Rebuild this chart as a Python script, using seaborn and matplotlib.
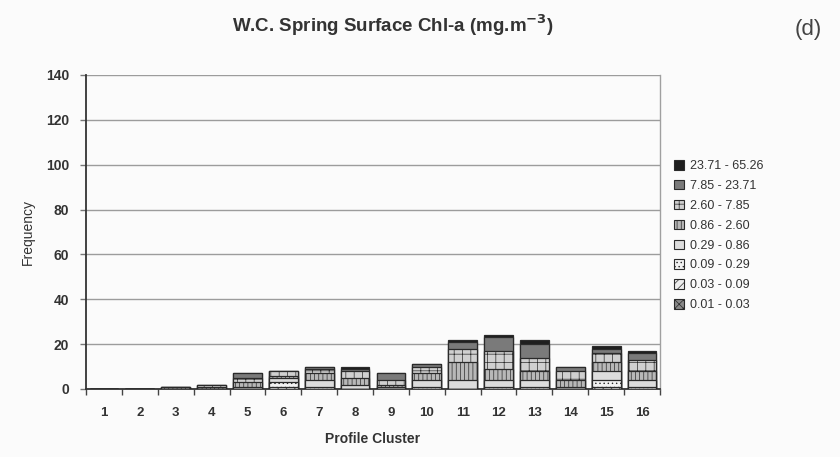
import matplotlib
matplotlib.use("Agg")
import matplotlib.pyplot as plt
from matplotlib.patches import Patch
import numpy as np
import pandas as pd
import seaborn as sns

# Profile clusters and concentration classes (mg.m-3), lowest class first
clusters = [str(i) for i in range(1, 17)]
classes = ["0.01 - 0.03", "0.03 - 0.09", "0.09 - 0.29", "0.29 - 0.86",
           "0.86 - 2.60", "2.60 - 7.85", "7.85 - 23.71", "23.71 - 65.26"]

# Frequency of each class within each cluster
c_001_003 = [0, 0, 0, 0, 0, 0, 0, 0, 0, 0, 0, 0, 0, 0, 0, 0]
c_003_009 = [0, 0, 0, 0, 0, 1, 0, 0, 0, 0, 0, 0, 0, 0, 1, 0]
c_009_029 = [0, 0, 0, 0, 0, 2, 1, 0, 0, 1, 0, 1, 1, 0, 3, 1]
c_029_086 = [0, 0, 0, 0, 1, 2, 3, 2, 1, 3, 4, 3, 3, 1, 4, 3]
c_086_260 = [0, 0, 1, 1, 2, 1, 3, 3, 1, 3, 8, 5, 4, 3, 4, 4]
c_260_785 = [0, 0, 0, 1, 2, 2, 2, 3, 2, 3, 6, 8, 6, 4, 4, 5]
c_785_2371 = [0, 0, 0, 0, 2, 0, 1, 1, 3, 1, 3, 6, 6, 2, 2, 3]
c_2371_6526 = [0, 0, 0, 0, 0, 0, 0, 1, 0, 0, 1, 1, 2, 0, 1, 1]

layers = [c_001_003, c_003_009, c_009_029, c_029_086,
          c_086_260, c_260_785, c_785_2371, c_2371_6526]

# Fill / hatch style per class, lowest class first
fills = ["#8a8a8a", "#eeeeee", "#f2f2f2", "#dcdcdc",
         "#b8b8b8", "#d0d0d0", "#7a7a7a", "#1e1e1e"]
hatches = ["xxxx", "////", "....", "", "||||", "++", "", ""]

sns.set_theme(style="white")
plt.rcParams["font.family"] = ["Liberation Sans", "DejaVu Sans"]
plt.rcParams["hatch.linewidth"] = 0.5

fig = plt.figure(figsize=(8.4, 4.57), dpi=100)
fig.patch.set_facecolor("#fbfbfb")
ax = fig.add_axes([0.1024, 0.1488, 0.6833, 0.6871])
ax.set_facecolor("#fbfbfb")

# Stacked bars: draw cumulative totals from the top class down
cum = np.cumsum(np.array(layers), axis=0)
for i in range(len(layers) - 1, -1, -1):
    df = pd.DataFrame({"cluster": clusters, "freq": cum[i]})
    sns.barplot(data=df, x="cluster", y="freq", order=clusters, ax=ax,
                color=fills[i], saturation=1, width=0.8, hatch=hatches[i],
                edgecolor="#2a2a2a", linewidth=0.9, zorder=3)

ax.set_ylim(0, 140)
ax.set_xlim(-0.5, 15.5)
ax.set_yticks(range(0, 141, 20))
ax.yaxis.grid(True, color="#9c9c9c", linewidth=1.0, zorder=0)
ax.set_axisbelow(True)

# Category labels at bar centres, tick marks between clusters
ax.set_xticks(range(16))
ax.set_xticklabels(clusters, fontsize=9.5, fontweight="bold", color="#333333")
ax.set_xticks(np.arange(-0.5, 16, 1), minor=True)
ax.tick_params(axis="x", which="major", length=0, pad=13)
ax.tick_params(axis="x", which="minor", length=4, width=1, color="#444444",
               direction="out", bottom=True)
ax.tick_params(axis="y", length=4, width=1, color="#777777", left=True,
               labelsize=10, pad=8, labelcolor="#333333")
for lab in ax.get_yticklabels():
    lab.set_fontweight("bold")

ax.spines["top"].set_visible(False)
ax.spines["right"].set_color("#a0a0a0")
ax.spines["right"].set_linewidth(1.0)
ax.spines["left"].set_color("#333333")
ax.spines["left"].set_linewidth(1.3)
ax.spines["bottom"].set_color("#333333")
ax.spines["bottom"].set_linewidth(1.3)

ax.set_xlabel("Profile Cluster", fontsize=10, fontweight="bold",
              color="#333333", labelpad=9)
ax.set_ylabel("Frequency", fontsize=10, color="#333333", labelpad=8)

fig.text(232 / 840, 1 - 25 / 457,
         "W.C. Spring Surface Chl-a (mg.m$^{\\mathbf{-3}}$)",
         ha="left", va="center", fontsize=13.5, fontweight="bold",
         color="#333333")
fig.text(808 / 840, 1 - 30 / 457, "(d)", ha="center", va="center",
         fontsize=16, color="#444444")

# Legend: highest class on top
handles = [Patch(facecolor=fills[i], hatch=hatches[i], edgecolor="#2a2a2a",
                 linewidth=0.8, label=classes[i])
           for i in range(len(classes) - 1, -1, -1)]
fig.legend(handles=handles, loc="upper left",
           bbox_to_anchor=(669 / 840, 1 - 155 / 457), frameon=False,
           fontsize=9, handlelength=0.8, handleheight=0.8,
           handletextpad=0.5, labelspacing=0.62, borderaxespad=0,
           labelcolor="#333333")

fig.savefig("out.png", dpi=100, facecolor=fig.get_facecolor())
